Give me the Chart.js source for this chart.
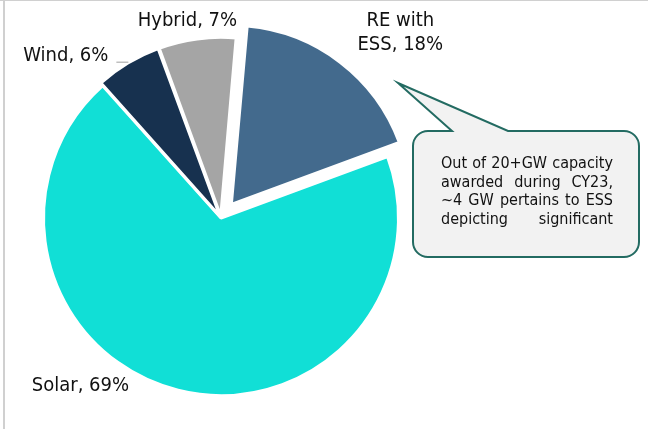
<!DOCTYPE html>
<html>
<head>
<meta charset="utf-8">
<script src="https://cdn.jsdelivr.net/npm/chart.js@4/dist/chart.umd.min.js"></script>
<style>
html, body { margin: 0; padding: 0; background: #fff; }
#wrap { position: relative; width: 648px; height: 429px; }
</style>
</head>
<body>
<div id="wrap"><canvas id="capacityPie" width="648" height="429"></canvas></div>
<script>
// data (share of capacity awarded, %)
var categories = [['RE with', 'ESS'], 'Solar', 'Wind', 'Hybrid'];
var shares = [18, 69, 6, 7];

var noteLines = [
    'Out of 20+GW capacity',
    'awarded during CY23,',
    '~4 GW pertains to ESS',
    'depicting significant'
];

// styles
var sliceColors = ['#436a8d', '#11dfd6', '#17314f', '#a5a5a5'];
var sliceOffsets = [68, 0, 8, 8];          // v4 draws arc offset / 4
var labelFont = '20px "DejaVu Sans Condensed", "DejaVu Sans", sans-serif';
var noteFont = '16px "DejaVu Sans Condensed", "DejaVu Sans", sans-serif';
var labelLineHeight = 24;
var labelNudge = [[71.5, -51], [-97.6, 0.4], [-63.8, -4.6], [-10.1, -16.1]];   // from slice rim, to text baseline
var leaderFor = [false, false, true, false];
var calloutBox = { x: 413, y: 131, w: 226, h: 126, r: 15, tailFrom: 452, tailTo: 508, tipX: 398, tipY: 83,
                   textLeft: 441, textRight: 613, textTop: 168.3, lineH: 18.4 };

var framePlugin = {
    id: 'frame',
    beforeDraw: function (chart) {
        var c = chart.ctx;
        c.save();
        c.fillStyle = '#ffffff';
        c.fillRect(0, 0, chart.width, chart.height);
        c.fillStyle = '#d0d0d0';
        c.fillRect(0, 0, chart.width, 1);    // top rule
        c.fillRect(3, 0, 2, chart.height);   // left rule
        c.restore();
    }
};

var labelPlugin = {
    id: 'sliceLabels',
    afterDatasetsDraw: function (chart) {
        var c = chart.ctx;
        var arcs = chart.getDatasetMeta(0).data;
        c.save();
        c.font = labelFont;
        c.fillStyle = '#111111';
        c.textAlign = 'center';
        c.textBaseline = 'alphabetic';
        arcs.forEach(function (arc, i) {
            var p = arc.getProps(['x', 'y', 'startAngle', 'endAngle', 'outerRadius'], true);
            var mid = (p.startAngle + p.endAngle) / 2;
            var bx = p.x + Math.cos(mid) * p.outerRadius + labelNudge[i][0];
            var by = p.y + Math.sin(mid) * p.outerRadius + labelNudge[i][1];
            var name = [].concat(categories[i]);
            var lines = name.slice(0, -1).concat(name[name.length - 1] + ', ' + shares[i] + '%');
            lines.forEach(function (t, k) {
                c.fillText(t, bx, by + k * labelLineHeight);
            });
            if (leaderFor[i]) {
                var right = bx + c.measureText(lines[lines.length - 1]).width / 2;
                c.beginPath();
                c.moveTo(right + 8, by + 1);
                c.lineTo(right + 20, by + 1);
                c.lineWidth = 1.5;
                c.strokeStyle = '#bfbfbf';
                c.stroke();
            }
        });
        c.restore();
    }
};

var calloutPlugin = {
    id: 'callout',
    afterDraw: function (chart) {
        var c = chart.ctx, b = calloutBox;
        c.save();
        c.beginPath();
        c.moveTo(b.x + b.r, b.y);
        c.lineTo(b.tailFrom, b.y);
        c.lineTo(b.tipX, b.tipY);
        c.lineTo(b.tailTo, b.y);
        c.arcTo(b.x + b.w, b.y, b.x + b.w, b.y + b.h, b.r);
        c.arcTo(b.x + b.w, b.y + b.h, b.x, b.y + b.h, b.r);
        c.arcTo(b.x, b.y + b.h, b.x, b.y, b.r);
        c.arcTo(b.x, b.y, b.x + b.w, b.y, b.r);
        c.closePath();
        c.fillStyle = '#f2f2f2';
        c.fill();
        c.lineWidth = 2;
        c.strokeStyle = '#236b62';
        c.stroke();

        // justified note text
        c.font = noteFont;
        c.fillStyle = '#111111';
        c.textAlign = 'left';
        c.textBaseline = 'alphabetic';
        noteLines.forEach(function (line, k) {
            var words = line.split(' ');
            var total = 0;
            words.forEach(function (w) { total += c.measureText(w).width; });
            var gap = words.length > 1 ? (b.textRight - b.textLeft - total) / (words.length - 1) : 0;
            var x = b.textLeft;
            words.forEach(function (w) {
                c.fillText(w, x, b.textTop + k * b.lineH);
                x += c.measureText(w).width + gap;
            });
        });
        c.restore();
    }
};

var ctx = document.getElementById('capacityPie').getContext('2d');

var pie = new Chart(ctx, {
    type: 'pie',
    data: {
        labels: categories,
        datasets: [{
            data: shares,
            backgroundColor: sliceColors,
            borderColor: '#ffffff',
            borderWidth: 3,
            offset: sliceOffsets,
            hoverOffset: 0
        }]
    },
    options: {
        responsive: false,
        animation: false,
        events: [],
        rotation: 5,
        radius: 177.5,
        layout: { padding: { left: 0, top: 7, right: 206, bottom: 0 } },
        plugins: {
            legend: { display: false },
            tooltip: { enabled: false }
        }
    },
    plugins: [framePlugin, labelPlugin, calloutPlugin]
});
</script>
</body>
</html>
